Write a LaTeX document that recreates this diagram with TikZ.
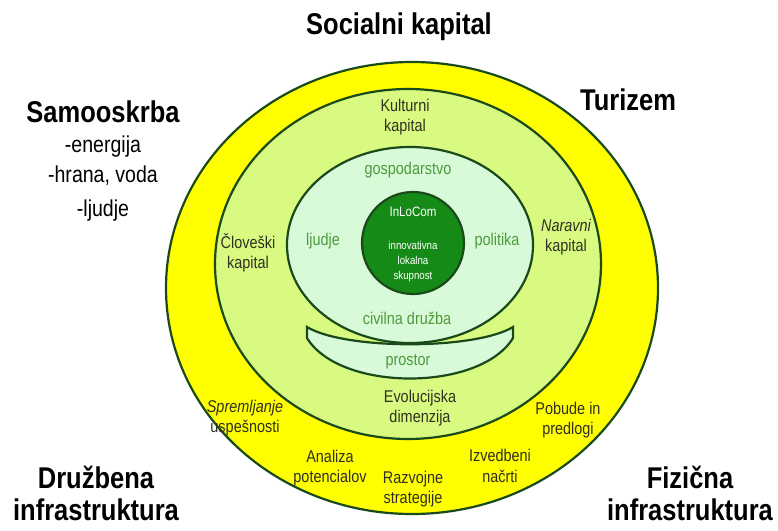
\documentclass[tikz,border=0pt]{standalone}
\usepackage{fontspec}
\setmainfont[FakeStretch=0.85]{Liberation Sans}
\usetikzlibrary{shapes.geometric}
\definecolor{ringline}{HTML}{1A4A1A}
\definecolor{yell}{HTML}{FFFF00}
\definecolor{lgreen}{HTML}{D8FA80}
\definecolor{pale}{HTML}{D8FAD8}
\definecolor{dgreen}{HTML}{168A16}
\definecolor{gtext}{HTML}{4E9A3C}
\definecolor{dtext}{HTML}{303020}
\tikzset{
  ring/.style={draw=ringline, line width=2.2pt},
  title/.style={font=\fontsize{30}{32}\selectfont\bfseries, text=black, align=center, inner sep=0pt},
  sub/.style={font=\fontsize{23}{28}\selectfont, text=black, align=center, inner sep=0pt},
  lab/.style={font=\fontsize{17}{20.5}\selectfont, text=dtext, align=center, inner sep=0pt},
  glab/.style={font=\fontsize{17}{20}\selectfont, text=gtext, align=center, inner sep=0pt},
  wlab/.style={font=\fontsize{11.4}{15}\selectfont, text=white, align=center, inner sep=0pt},
}
\begin{document}
\begin{tikzpicture}[x=1pt,y=-1pt]
\useasboundingbox (0,0) rectangle (778,530);
% rings
\draw[ring, fill=yell] (412,288) ellipse [x radius=246, y radius=226];
\draw[ring, fill=lgreen] (408,264) ellipse [x radius=193, y radius=175];
\draw[ring, fill=pale] (410,245) ellipse [x radius=123, y radius=98];
\draw[ring, fill=dgreen] (413,243) circle [radius=51];
% prostor band
\draw[ring, fill=pale] (307,327) .. controls (345,350) and (475,350) .. (513,327)
  -- (513,338) .. controls (480,392) and (340,392) .. (307,338) -- cycle;
% titles
\node[title] (soc) at (399,27) {Socialni kapital};
\node[title] (tur) at (628,100) {Turizem};
\node[title] (sam) at (103,112) {Samooskrba};
\node[sub] (en) at (103,147) {-energija};
\node[sub] (hr) at (103,176) {-hrana, voda};
\node[sub] (lj) at (103,211) {-ljudje};
\node[title] (druz) at (96,493) {Družbena\\infrastruktura};
\node[title] (fiz) at (690,493) {Fizična\\infrastruktura};
% ring labels
\node[lab] (kult) at (405,117) {Kulturni\\kapital};
\node[lab] (clov) at (248,253) {Človeški\\kapital};
\node[lab] (nar) at (566,237) {\itshape Naravni\\kapital};
\node[lab] (evo) at (420,408) {Evolucijska\\dimenzija};
\node[lab] (spr) at (245,418) {\itshape Spremljanje\\uspešnosti};
\node[lab] (ana) at (330,468) {Analiza\\potencialov};
\node[lab] (raz) at (413,489) {Razvojne\\strategije};
\node[lab] (izv) at (500,466) {Izvedbeni\\načrti};
\node[lab] (pob) at (568,420) {Pobude in\\predlogi};
% inner labels
\node[glab] (gos) at (408,170) {gospodarstvo};
\node[glab] (ljud) at (323,241) {ljudje};
\node[glab] (pol) at (497,241) {politika};
\node[glab] (civ) at (407,318) {civilna družba};
\node[glab] (pro) at (408,362) {prostor};
% core
\node[font=\fontsize{13.6}{15}\selectfont, text=white, inner sep=0pt] (inl) at (413,212) {InLoCom};
\node[wlab] (inn) at (413,262) {innovativna\\lokalna\\skupnost};
\end{tikzpicture}
\end{document}
